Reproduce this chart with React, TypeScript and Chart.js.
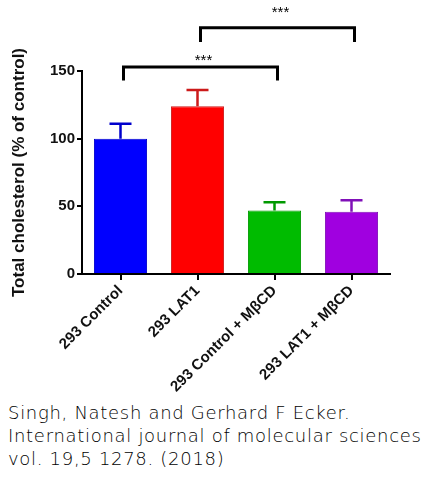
import {useEffect, useRef} from 'react';
import {Chart, registerables} from 'chart.js';

Chart.register(...registerables);

const groups = ['293 Control', '293 LAT1', '293 Control + MβCD', '293 LAT1 + MβCD'];
const meanValues = [100, 124, 47, 46];
const errorValues = [11, 12, 6, 8.5];
const barColors = ['#0000ff', '#ff0000', '#00bb00', '#a000e0'];
const whiskerColors = ['#0000cc', '#cc1a1a', '#009900', '#8010b8'];

// significance brackets, in axis units
const bracketFrom = [0, 1];
const bracketTo = [2, 3];
const bracketLevel = [153, 182];
const bracketFoot = [143, 171.5];
const bracketLabel = ['***', '***'];
const bracketLabelLevel = [160, 195];

const errorBars = {
    id: 'errorBars',
    afterDatasetsDraw(chart: any) {
        const ctx = chart.ctx;
        const y = chart.scales.y;
        const meta = chart.getDatasetMeta(0);
        ctx.save();
        meta.data.forEach((bar: any, i: number) => {
            const top = y.getPixelForValue(meanValues[i] + errorValues[i]);
            ctx.strokeStyle = whiskerColors[i];
            ctx.lineWidth = 2.5;
            ctx.beginPath();
            ctx.moveTo(bar.x, bar.y);
            ctx.lineTo(bar.x, top);
            ctx.moveTo(bar.x - 11, top);
            ctx.lineTo(bar.x + 11, top);
            ctx.stroke();
        });
        ctx.restore();
    },
};

const brackets = {
    id: 'brackets',
    afterDraw(chart: any) {
        const ctx = chart.ctx;
        const x = chart.scales.x;
        const y = chart.scales.y;
        ctx.save();
        ctx.strokeStyle = '#000';
        ctx.lineWidth = 3;
        ctx.fillStyle = '#000';
        ctx.font = '15px "Liberation Sans", Arial, sans-serif';
        ctx.textAlign = 'center';
        ctx.textBaseline = 'middle';
        bracketFrom.forEach((from, i) => {
            const x1 = x.getPixelForValue(from) + 3;
            const x2 = x.getPixelForValue(bracketTo[i]) + 3;
            const yl = y.getPixelForValue(bracketLevel[i]);
            const yf = y.getPixelForValue(bracketFoot[i]);
            ctx.beginPath();
            ctx.moveTo(x1, yf);
            ctx.lineTo(x1, yl);
            ctx.lineTo(x2, yl);
            ctx.lineTo(x2, yf);
            ctx.stroke();
            ctx.fillText(bracketLabel[i], (x1 + x2) / 2 + 3, y.getPixelForValue(bracketLabelLevel[i]) + 3);
        });
        ctx.restore();
    },
};

const BarChart: React.FC = () => {
    const canvasRef = useRef<HTMLCanvasElement | null>(null);
    const chartRef = useRef<Chart | null>(null);

    useEffect(() => {
        const ctx = canvasRef.current?.getContext('2d');
        if (!ctx) return;

        chartRef.current = new Chart(ctx, {
            type: 'bar',
            data: {
                labels: groups,
                datasets: [
                    {
                        data: meanValues,
                        backgroundColor: barColors,
                        borderColor: whiskerColors,
                        borderWidth: 1,
                        barPercentage: 0.69,
                        categoryPercentage: 1,
                    },
                ],
            },
            options: {
                animation: false,
                responsive: true,
                maintainAspectRatio: false,
                layout: {padding: {top: 71, right: 45, left: 0, bottom: 0}},
                plugins: {
                    legend: {display: false},
                    tooltip: {enabled: false},
                },
                scales: {
                    x: {
                        offset: true,
                        afterFit: (scale: any) => {
                            scale.height = 121;
                        },
                        border: {color: '#000', width: 2},
                        grid: {
                            drawOnChartArea: false,
                            color: '#000',
                            lineWidth: 2,
                            tickLength: 6,
                            offset: false,
                        },
                        ticks: {
                            color: '#111',
                            minRotation: 45,
                            maxRotation: 45,
                            padding: 2,
                            font: {family: '"Liberation Sans", Arial, sans-serif', size: 15, weight: 'bold'},
                        },
                    },
                    y: {
                        min: 0,
                        max: 150,
                        afterFit: (scale: any) => {
                            scale.width = 82;
                        },
                        border: {color: '#000', width: 2},
                        grid: {
                            drawOnChartArea: false,
                            color: '#000',
                            lineWidth: 2,
                            tickLength: 5,
                        },
                        ticks: {
                            stepSize: 50,
                            color: '#111',
                            padding: 2,
                            font: {family: '"Liberation Sans", Arial, sans-serif', size: 15, weight: 'bold'},
                        },
                        title: {
                            display: true,
                            text: 'Total cholesterol (% of control)',
                            color: '#111',
                            padding: {top: 9, bottom: 0},
                            font: {family: '"Liberation Sans", Arial, sans-serif', size: 17, weight: 'bold'},
                        },
                    },
                },
            },
            plugins: [errorBars, brackets],
        });
        return () => chartRef.current?.destroy();
    }, []);

    return (
        <div style={{position: 'absolute', left: 0, top: 0, width: 435, height: 395}}>
            <canvas ref={canvasRef} />
        </div>
    );
};

const App = () => (
    <div style={{position: 'absolute', left: 0, top: 0, width: 435, height: 496, background: '#fff'}}>
        <BarChart />
        <div
            style={{
                position: 'absolute',
                left: 8,
                top: 401,
                fontFamily: '"DejaVu Sans", sans-serif',
                fontWeight: 200,
                fontSize: 18,
                lineHeight: '23px',
                letterSpacing: '0.7px',
                color: '#000',
                whiteSpace: 'nowrap',
            }}
        >
            Singh, Natesh and Gerhard F Ecker.
            <br />
            International journal of molecular sciences
            <br />
            vol. 19,5 1278. (2018)
        </div>
    </div>
);

export default App;
